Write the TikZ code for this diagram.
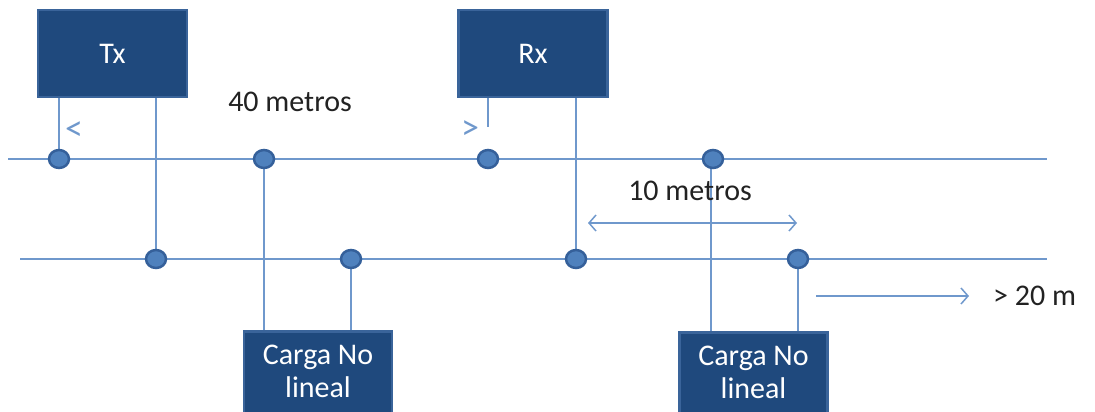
\documentclass[tikz,border=0pt]{standalone}
\usepackage{fontspec}
\setmainfont{Carlito}
\usetikzlibrary{arrows.meta,shapes.geometric}
\definecolor{boxfill}{HTML}{1F497D}
\definecolor{boxedge}{HTML}{3A649A}
\definecolor{wire}{HTML}{6F98CC}
\definecolor{dotfill}{HTML}{4F81BD}
\definecolor{dotedge}{HTML}{35609A}
\definecolor{txt}{HTML}{222222}
\tikzset{
  unitbox/.style={draw=boxedge, line width=2.5pt, fill=boxfill, text=white,
    minimum width=149pt, minimum height=87pt, inner sep=0pt,
    font=\fontsize{30}{33}\selectfont, align=center},
  loadbox/.style={unitbox, minimum width=148pt, minimum height=86pt, anchor=north,
    text depth=6pt},
  dot/.style={ellipse, draw=dotedge, line width=2.5pt, fill=dotfill,
    minimum width=20pt, minimum height=18pt, inner sep=0pt},
  wireline/.style={draw=wire, line width=2.7pt},
  measure/.style={draw=wire, line width=2.7pt},
  lbl/.style={text=txt, font=\fontsize{30}{33}\selectfont, inner sep=0pt},
  tick/.style={text=wire, font=\fontsize{36}{38}\selectfont, inner sep=0pt}
}
\tikzset{>={Straight Barb[length=7pt,width=16pt,line width=1.5pt]}}
\begin{document}
\begin{tikzpicture}[x=1pt, y=-1pt]
\useasboundingbox (0,0) rectangle (1095,412);
\clip (0,0) rectangle (1095,412);

% two bus lines
\coordinate (topL) at (8,159);
\coordinate (topR) at (1047,159);
\coordinate (botL) at (20,259);
\coordinate (botR) at (1047,259);

% stations
\node[unitbox] (Tx) at (112.5,53.5) {Tx};
\node[unitbox] (Rx) at (533,53.5) {Rx};
\node[loadbox] (C1) at (318,330) {Carga No\\lineal};
\node[loadbox] (C2) at (753.5,331) {Carga No\\lineal};

% tap points on the buses
\coordinate (t1) at (59,159);
\coordinate (t2) at (264,159);
\coordinate (t3) at (488,159);
\coordinate (t4) at (711,159);
\coordinate (b1) at (156,259);
\coordinate (b2) at (351,259);
\coordinate (b3) at (576,259);
\coordinate (b4) at (798,259);
\coordinate (rxend) at (488,127);

\draw[wireline] (topL) -- (topR);
\draw[wireline] (botL) -- (botR);

% vertical connections (under the dots)
\draw[wireline] (t1 |- Tx.south) -- (t1);
\draw[wireline] (b1 |- Tx.south) -- (b1);
\draw[wireline] (rxend |- Rx.south) -- (rxend);
\draw[wireline] (b3 |- Rx.south) -- (b3);
\draw[wireline] (t2) -- (t2 |- C1.north);
\draw[wireline] (b2) -- (b2 |- C1.north);
\draw[wireline] (t4) -- (t4 |- C2.north);
\draw[wireline] (b4) -- (b4 |- C2.north);

% junction dots
\node[dot] (d1) at (t1) {};
\node[dot] (d2) at (t2) {};
\node[dot] (d3) at (t3) {};
\node[dot] (d4) at (713,159) {};
\node[dot] (d5) at (b1) {};
\node[dot] (d6) at (b2) {};
\node[dot] (d7) at (b3) {};
\node[dot] (d8) at (b4) {};

% distance marks
\node[tick] (lt) at (74,131) {<};
\node[tick] (gt) at (470,130) {>};
\node[lbl] (m40) at (290,102) {40 metros};

\coordinate (a1) at (588,223);
\coordinate (a2) at (797,223);
\draw[measure, <->] (a1) -- (a2);
\node[lbl] (m10) at (690,191) {10 metros};

\coordinate (f1) at (816,296);
\coordinate (f2) at (969,296);
\draw[measure, ->] (f1) -- (f2);
\node[lbl, anchor=west] (m20) at (993,296) {> 20 m};
\end{tikzpicture}
\end{document}
